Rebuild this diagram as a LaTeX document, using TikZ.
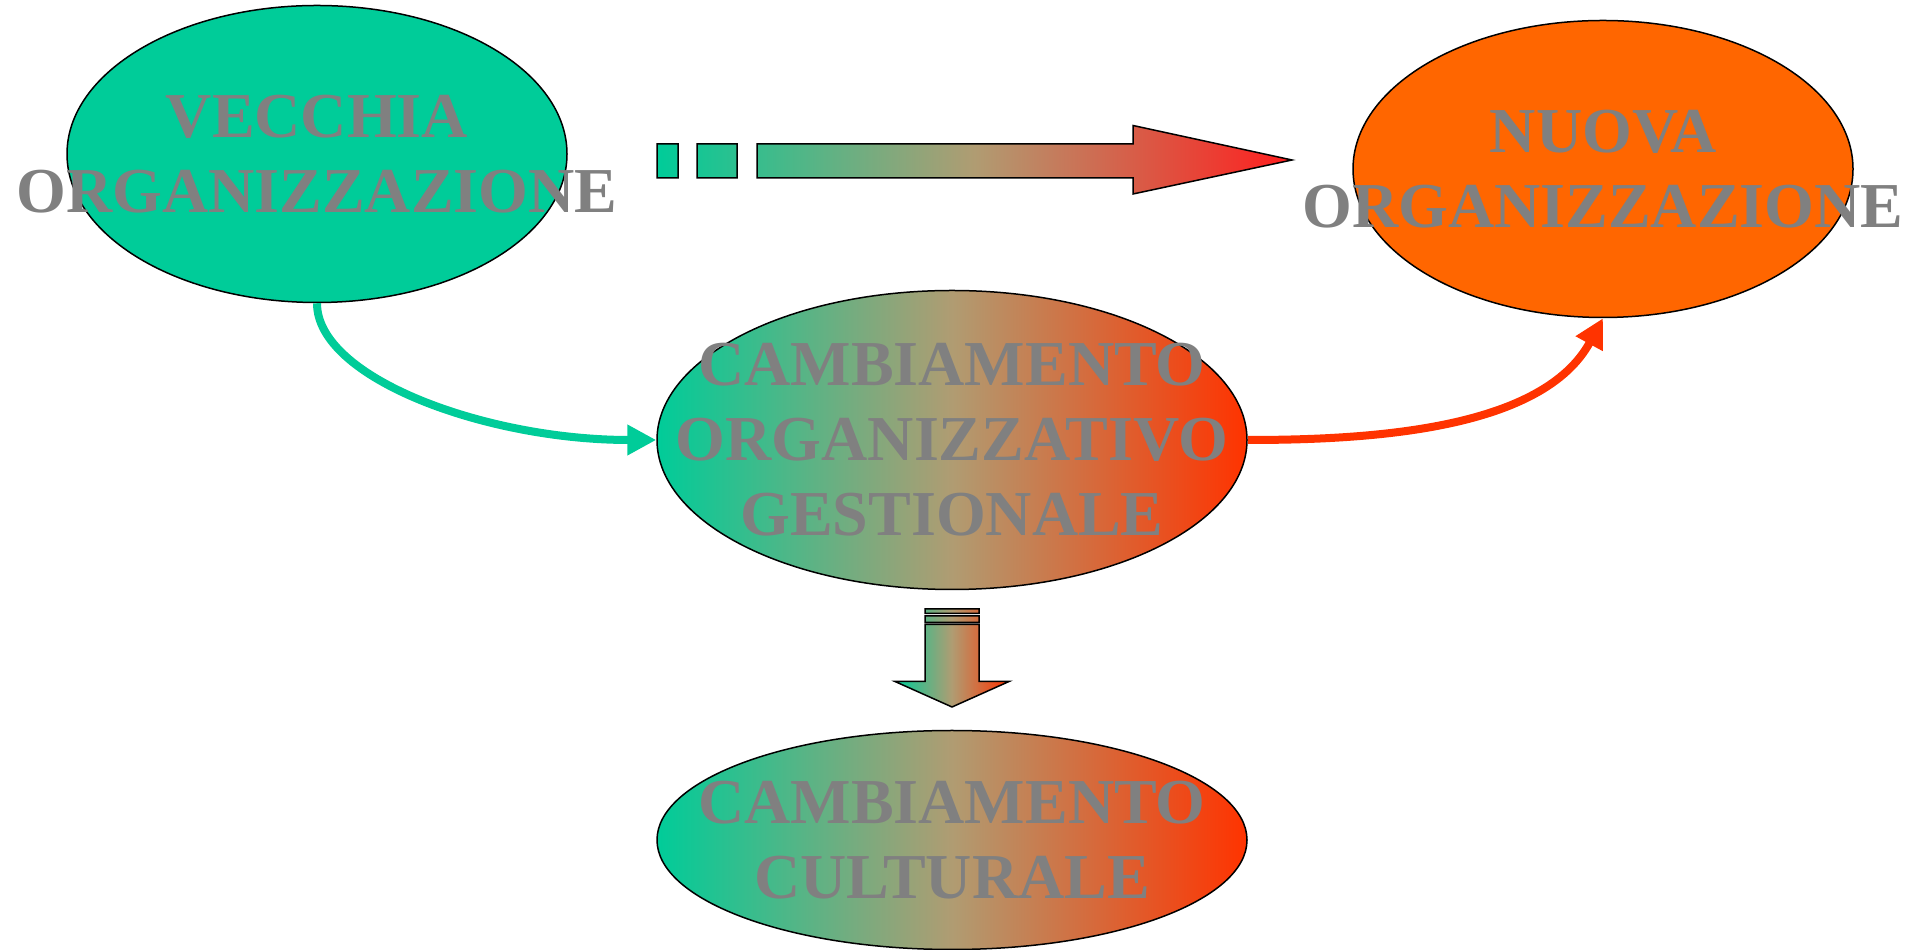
\documentclass[tikz,border=0pt]{standalone}
\usepackage{fontspec}
\setmainfont{Liberation Serif}
\usetikzlibrary{shapes.geometric,arrows.meta}
\definecolor{verde}{RGB}{0,204,153}
\definecolor{arancio}{RGB}{255,102,0}
\definecolor{rosso}{RGB}{255,51,0}
\definecolor{rossovivo}{RGB}{255,30,30}
\definecolor{sabbia}{RGB}{176,156,114}
\definecolor{grigio}{RGB}{128,128,128}

\begin{document}
\begin{tikzpicture}[x=1pt, y=1pt,
    bolla/.style={ellipse, draw=black, line width=1.5pt, inner sep=0pt},
    sfumato/.style={left color=verde, right color=#1, middle color=sabbia,
        draw=black, line width=1.5pt},
    sfumato/.default=rosso,
    scritta/.style={text=grigio, align=center,
        font=\fontsize{64}{75}\selectfont\bfseries},
    legame/.style={line width=8pt, -{Triangle[length=29pt, width=29pt]}}
    ]
    \useasboundingbox (0,0) rectangle (1911,950);

    % the four ellipses
    \node [bolla, fill=verde, minimum width=500pt, minimum height=297pt]
        (vecchia) at (317,796) {};
    \node [bolla, fill=arancio, minimum width=500pt, minimum height=297pt]
        (nuova) at (1603,781) {};
    \node [bolla, sfumato, minimum width=590pt, minimum height=299pt]
        (gestion) at (952,510) {};
    \node [bolla, sfumato, minimum width=590pt, minimum height=219pt]
        (culturale) at (952,110) {};

    % connectors
    \draw [legame, verde] (vecchia.south)
        .. controls +(0,-75) and +(-170,0) .. (gestion.west);
    \draw [legame, rosso] (gestion.east)
        .. controls +(130,0) and +(-60,-110) .. (nuova.south);

    % block arrows
    \shadedraw [sfumato=rossovivo]
        (657,806) rectangle (678,772)
        (697,806) rectangle (737,772)
        (757,806) -- (1133,806) -- (1133,824.5) -- (1292,790)
        -- (1133,756) -- (1133,772) -- (757,772) -- cycle;
    \shadedraw [sfumato]
        (925,341) rectangle (979,336.5)
        (925,334) rectangle (979,327.5)
        (925,325.5) -- (979,325.5) -- (979,268.5) -- (1009,268.5)
        -- (952,243) -- (895,268.5) -- (925,268.5) -- cycle;

    % labels
    \node [scritta] (vecchia-t) at (vecchia) {VECCHIA\\ORGANIZZAZIONE};
    \node [scritta] (nuova-t) at (nuova) {NUOVA\\ORGANIZZAZIONE};
    \node [scritta] (gestion-t) at (gestion)
        {CAMBIAMENTO\\ORGANIZZATIVO\\GESTIONALE};
    \node [scritta] (culturale-t) at (culturale) {CAMBIAMENTO\\CULTURALE};
\end{tikzpicture}
\end{document}
